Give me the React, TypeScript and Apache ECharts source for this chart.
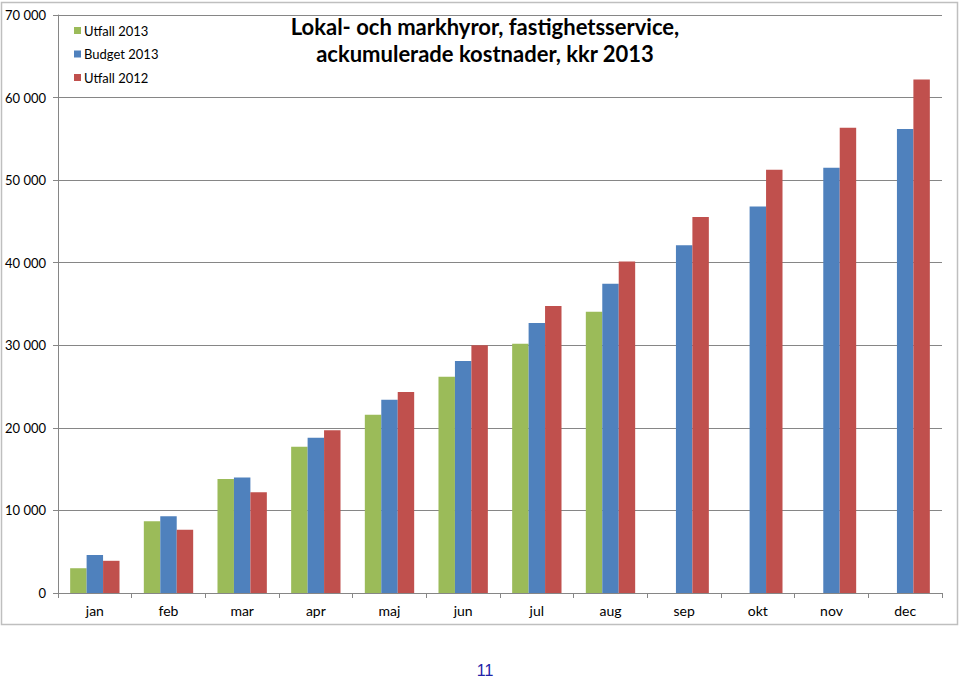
import React, { useEffect, useRef } from "react";
import * as echarts from "echarts";

const months = ["jan", "feb", "mar", "apr", "maj", "jun", "jul", "aug", "sep", "okt", "nov", "dec"];
const utfall2013 = [3000, 8700, 13800, 17700, 21600, 26200, 30200, 34050, null, null, null, null];
const budget2013 = [4600, 9300, 14000, 18800, 23400, 28100, 32700, 37450, 42100, 46800, 51500, 56200];
const utfall2012 = [3900, 7650, 12200, 19700, 24350, 30000, 34750, 40150, 45550, 51250, 56350, 62200];
const seriesNames = ["Utfall 2013", "Budget 2013", "Utfall 2012"];
const titleText = "Lokal- och markhyror, fastighetsservice,\nackumulerade kostnader, kkr 2013";
const pageNumber = "11";

const FONT = "Lato, 'Open Sans', sans-serif";

export default function App() {
  const ref = useRef<HTMLDivElement>(null);
  useEffect(() => {
    document.body.style.margin = "0";
    if (!ref.current) return;
    const chart = echarts.init(ref.current, undefined, { renderer: "svg" });
    const fmt = (v: number) => String(v).replace(/\B(?=(\d{3})+(?!\d))/g, " ");
    chart.setOption({
      animation: false,
      backgroundColor: "#fff",
      color: ["#9BBB59", "#4F81BD", "#C0504D"],
      title: {
        text: titleText,
        left: 480,
        top: 8,
        textAlign: "center",
        textStyle: {
          fontFamily: FONT,
          fontWeight: "bold",
          fontSize: 22,
          lineHeight: 27,
          color: "#000",
        },
      },
      legend: {
        orient: "vertical",
        left: 69,
        top: 19,
        itemWidth: 7,
        itemHeight: 7,
        itemGap: 10.5,
        icon: "rect",
        textStyle: { fontFamily: FONT, fontSize: 13, color: "#000", padding: [0, 0, 0, -2] },
        data: seriesNames,
      },
      grid: { left: 58, right: 18, top: 15, bottom: 86, containLabel: false },
      xAxis: {
        type: "category",
        data: months,
        axisLine: { lineStyle: { color: "#868686" } },
        axisTick: { show: true, alignWithLabel: false, length: 5, lineStyle: { color: "#868686" } },
        axisLabel: { fontFamily: FONT, fontSize: 14, color: "#000", margin: 10 },
      },
      yAxis: {
        type: "value",
        min: 0,
        max: 70000,
        interval: 10000,
        axisLine: { show: true, lineStyle: { color: "#868686" } },
        axisTick: { show: true, length: 5, lineStyle: { color: "#868686" } },
        axisLabel: { fontFamily: FONT, fontSize: 13, color: "#000", margin: 12, formatter: fmt },
        splitLine: { lineStyle: { color: "#868686", width: 1 } },
      },
      series: [
        { name: seriesNames[0], type: "bar", data: utfall2013, barGap: "0%", barCategoryGap: "33%" },
        { name: seriesNames[1], type: "bar", data: budget2013, barGap: "0%", barCategoryGap: "33%" },
        { name: seriesNames[2], type: "bar", data: utfall2012, barGap: "0%", barCategoryGap: "33%" },
      ],
      graphic: [
        {
          type: "rect",
          shape: { x: 1.5, y: 2.5, width: 956, height: 622 },
          style: { fill: "none", stroke: "#BFBFBF", lineWidth: 1.5 },
          silent: true,
          z: -1,
        },
        {
          type: "text",
          x: 485,
          y: 670,
          style: {
            text: pageNumber,
            fill: "#2323A8",
            font: "16px 'Liberation Sans', Arial, sans-serif",
            textAlign: "center",
            textVerticalAlign: "middle",
          },
        },
      ],
    });
    return () => chart.dispose();
  }, []);
  return <div ref={ref} style={{ width: 960, height: 679 }} />;
}
